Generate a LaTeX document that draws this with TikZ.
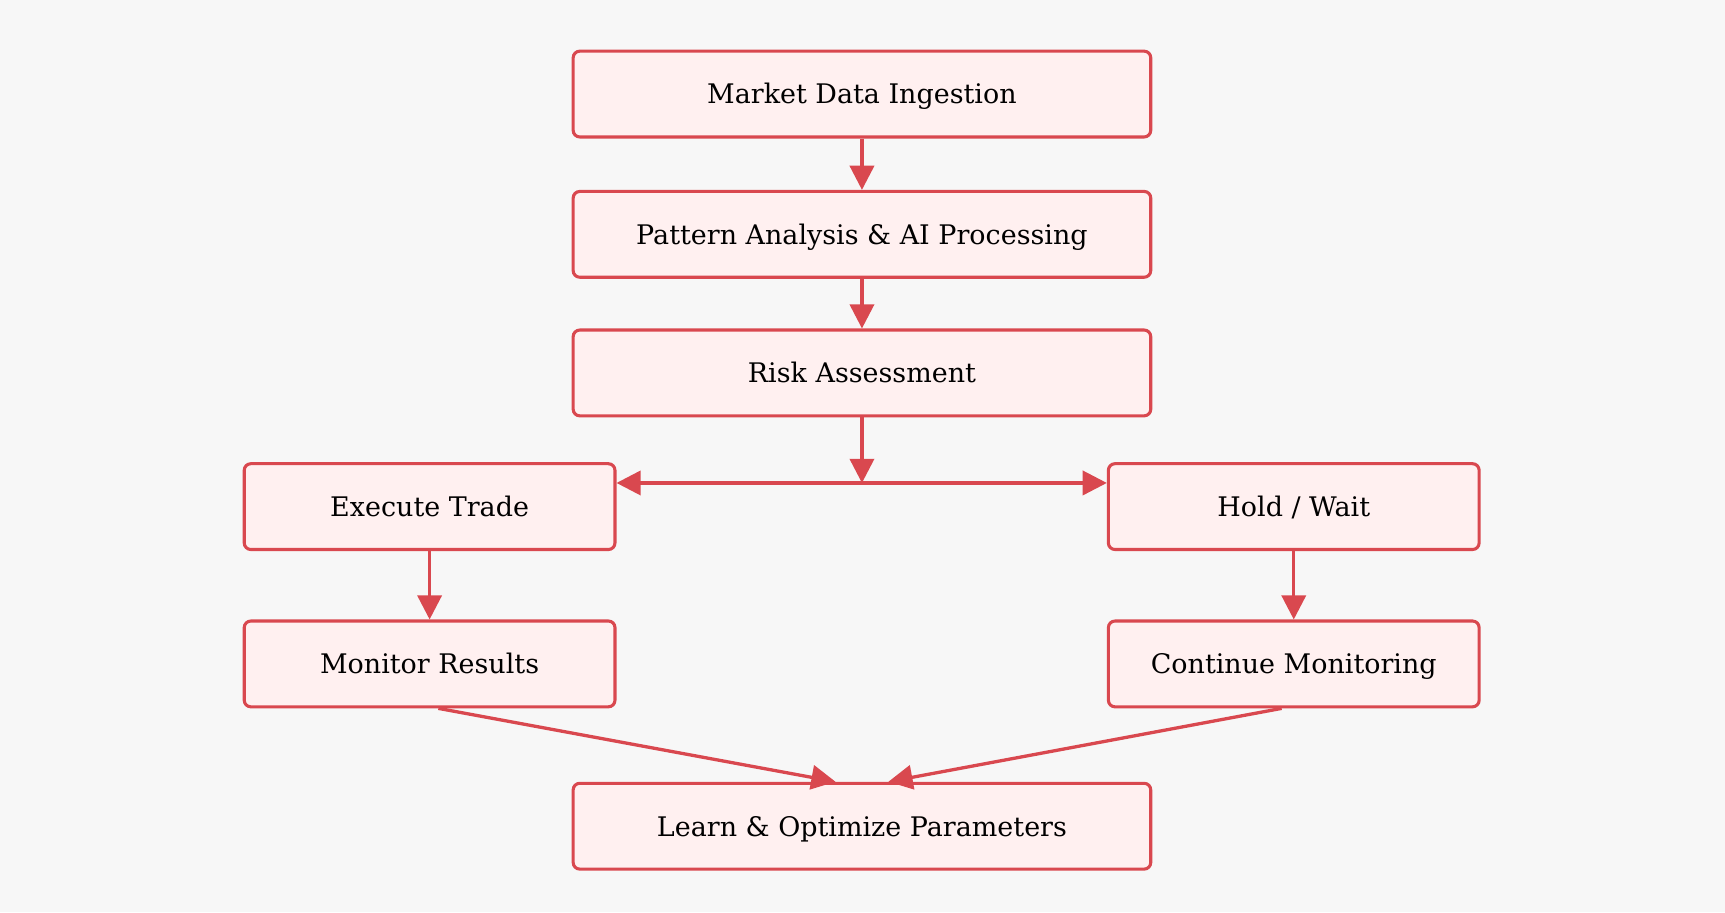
\documentclass[tikz,border=0pt]{standalone}
\usepackage{fontspec}
\setmainfont{DejaVu Serif}
\usetikzlibrary{arrows.meta}
\definecolor{edge}{HTML}{D9484F}
\definecolor{boxfill}{HTML}{FFF0F0}
\definecolor{bg}{HTML}{F7F7F7}
\begin{document}
\begin{tikzpicture}[x=1pt,y=-1pt,
  box/.style={draw=edge,fill=boxfill,line width=2.8pt,rounded corners=6pt,font=\fontsize{24.5}{28}\selectfont,text height=22pt,text depth=4pt},
  arr/.style={draw=edge,line width=3pt,-{Triangle[length=22pt,width=22pt]}}]
\fill[bg] (0,0) rectangle (1568,829);
\useasboundingbox (0,0) rectangle (1568,829);
\node[box,minimum width=525pt,minimum height=78pt] (a) at (783.5,85.5) {Market Data Ingestion};
\node[box,minimum width=525pt,minimum height=78pt] (b) at (783.5,213) {Pattern Analysis \& AI Processing};
\node[box,minimum width=525pt,minimum height=78pt] (c) at (783.5,339) {Risk Assessment};
\node[box,minimum width=337pt,minimum height=78pt] (d) at (390.5,460.5) {Execute Trade};
\node[box,minimum width=337pt,minimum height=78pt] (e) at (1176,460.5) {Hold / Wait};
\node[box,minimum width=337pt,minimum height=78pt] (f) at (390.5,603.5) {Monitor Results};
\node[box,minimum width=337pt,minimum height=78pt] (g) at (1176,603.5) {Continue Monitoring};
\node[box,minimum width=525pt,minimum height=78pt] (h) at (783.5,751) {Learn \& Optimize Parameters};
\coordinate (j) at (783.5,439);
\draw[arr] (a) -- (b);
\draw[arr] (b) -- (c);
\draw[arr] (c) -- (j);
\draw[arr] (j) -- (d.east |- j);
\draw[arr] (j) -- (e.west |- j);
\draw[arr] (d) -- (f);
\draw[arr] (e) -- (g);
\draw[arr] ([xshift=8pt]f.south) -- ([xshift=-24pt]h.north);
\draw[arr] ([xshift=-11pt]g.south) -- ([xshift=24pt]h.north);
\end{tikzpicture}
\end{document}
